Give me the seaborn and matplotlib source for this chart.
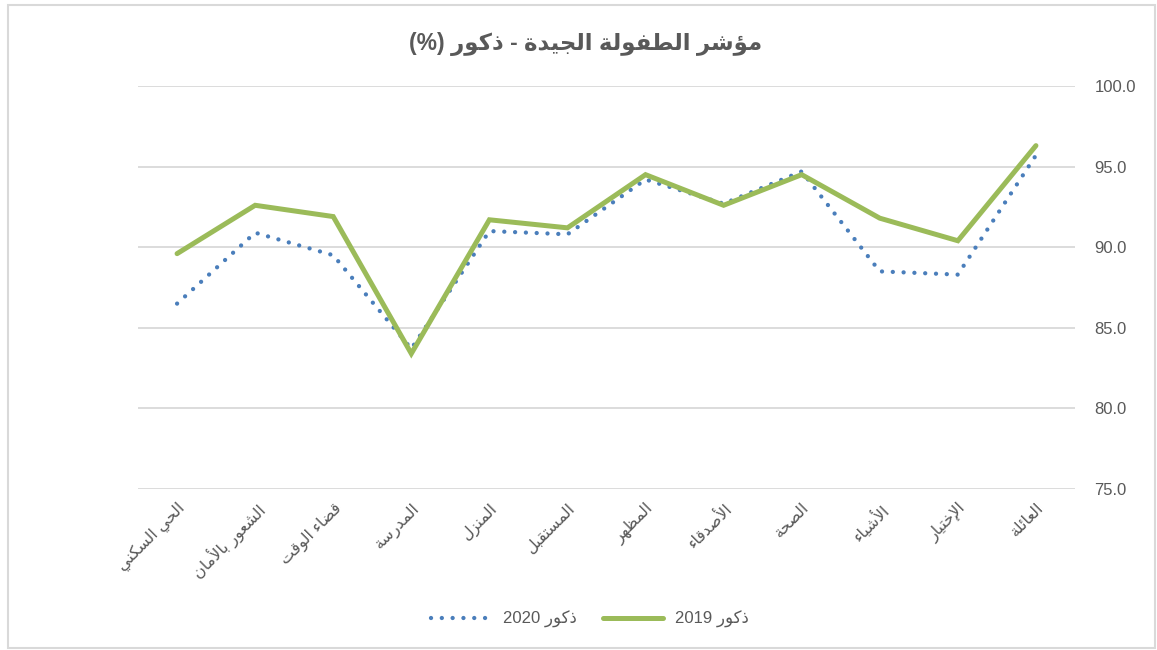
import re
import numpy as np
import pandas as pd
import matplotlib
matplotlib.use("Agg")
import matplotlib.pyplot as plt
from matplotlib.lines import Line2D
import seaborn as sns

# ---------------------------------------------------------------- data
categories = ["الحي السكني", "الشعور بالأمان", "قضاء الوقت", "المدرسة", "المنزل",
              "المستقبل", "المظهر", "الأصدقاء", "الصحة", "الأشياء", "الإختيار", "العائلة"]
males_2020 = [86.5, 90.9, 89.5, 83.7, 91.0, 90.8, 94.2, 92.7, 94.7, 88.5, 88.3, 95.7]
males_2019 = [89.6, 92.6, 91.9, 83.4, 91.7, 91.2, 94.5, 92.6, 94.5, 91.8, 90.4, 96.3]
label_2020 = "ذكور 2020"
label_2019 = "ذكور 2019"
title = "مؤشر الطفولة الجيدة - ذكور (%)"
y_ticks = [75.0, 80.0, 85.0, 90.0, 95.0, 100.0]

# ---------------------------------------------------------------- Arabic shaping
# (first code point of the contextual forms, number of forms: 1 iso, 2 iso/fin, 4 iso/fin/ini/med)
_ARABIC = {
    "ء": (0xFE80, 1), "آ": (0xFE81, 2), "أ": (0xFE83, 2), "ؤ": (0xFE85, 2),
    "إ": (0xFE87, 2), "ئ": (0xFE89, 4), "ا": (0xFE8D, 2), "ب": (0xFE8F, 4),
    "ة": (0xFE93, 2), "ت": (0xFE95, 4), "ث": (0xFE99, 4), "ج": (0xFE9D, 4),
    "ح": (0xFEA1, 4), "خ": (0xFEA5, 4), "د": (0xFEA9, 2), "ذ": (0xFEAB, 2),
    "ر": (0xFEAD, 2), "ز": (0xFEAF, 2), "س": (0xFEB1, 4), "ش": (0xFEB5, 4),
    "ص": (0xFEB9, 4), "ض": (0xFEBD, 4), "ط": (0xFEC1, 4), "ظ": (0xFEC5, 4),
    "ع": (0xFEC9, 4), "غ": (0xFECD, 4), "ف": (0xFED1, 4), "ق": (0xFED5, 4),
    "ك": (0xFED9, 4), "ل": (0xFEDD, 4), "م": (0xFEE1, 4), "ن": (0xFEE5, 4),
    "ه": (0xFEE9, 4), "و": (0xFEED, 2), "ى": (0xFEEF, 2), "ي": (0xFEF1, 4),
}
_LAM_ALEF = {"آ": 0xFEF5, "أ": 0xFEF7, "إ": 0xFEF9, "ا": 0xFEFB}


def _shape(text):
    tokens = []
    i = 0
    while i < len(text):
        c = text[i]
        if c == "ل" and i + 1 < len(text) and text[i + 1] in _LAM_ALEF:
            tokens.append(("LA", _LAM_ALEF[text[i + 1]], 2))
            i += 2
        elif c in _ARABIC:
            tokens.append((c,) + _ARABIC[c])
            i += 1
        else:
            tokens.append((c, None, 0))
            i += 1

    def joins_next(t):
        return t is not None and t[2] == 4

    def joins_prev(t):
        return t is not None and t[2] >= 2

    out = []
    for k, tok in enumerate(tokens):
        if tok[1] is None:
            out.append(tok[0])
            continue
        prev = tokens[k - 1] if k > 0 else None
        nxt = tokens[k + 1] if k + 1 < len(tokens) else None
        cp = joins_next(prev) and joins_prev(tok)
        cn = joins_next(tok) and joins_prev(nxt)
        if cp and cn:
            idx = 3
        elif cn:
            idx = 2
        elif cp:
            idx = 1
        else:
            idx = 0
        out.append(chr(tok[1] + idx))
    return "".join(out)


def rtl(text):
    vis = _shape(text)[::-1].translate(str.maketrans("()", ")("))
    return re.sub(r"[0-9.]+", lambda m: m.group(0)[::-1], vis)


# ---------------------------------------------------------------- style
sns.set_theme(style="white")
plt.rcParams["font.family"] = ["Liberation Sans", "DejaVu Sans"]
text_color = "#595959"
grid_color = "#d9d9d9"
blue = "#4a7ebb"
green = "#9bbb59"
dots = (0, (0.01, 2.5))

df = pd.DataFrame({
    "pos": np.arange(len(categories)),
    "2020": males_2020,
    "2019": males_2019,
})

fig = plt.figure(figsize=(11.57, 6.5), dpi=100)
ax = fig.add_axes([0.1193, 0.2477, 0.8098, 0.62])

sns.lineplot(data=df, x="pos", y="2020", ax=ax, color=blue, linewidth=3.1,
             linestyle=dots, dash_capstyle="round", sort=False)
sns.lineplot(data=df, x="pos", y="2019", ax=ax, color=green, linewidth=3.6,
             solid_capstyle="round", solid_joinstyle="miter", sort=False)

ax.set_xlim(-0.5, len(categories) - 0.5)
ax.set_ylim(y_ticks[0], y_ticks[-1])
ax.set_yticks(y_ticks)
ax.set_yticklabels([f"{v:.1f}" for v in y_ticks])
ax.yaxis.tick_right()
ax.tick_params(axis="y", length=0, pad=14, labelsize=12, labelcolor=text_color)

ax.set_xticks(df["pos"])
ax.set_xticklabels([rtl(c) for c in categories], rotation=45, ha="right",
                   rotation_mode="anchor", fontsize=11.5, color=text_color)
ax.tick_params(axis="x", length=0, pad=8)

ax.grid(axis="y", color=grid_color, linewidth=1.3)
ax.grid(axis="x", visible=False)
for s in ax.spines.values():
    s.set_visible(False)
ax.set_xlabel("")
ax.set_ylabel("")

fig.text(0.506, 0.933, rtl(title), ha="center", va="center", fontsize=16.5,
         fontweight="bold", color=text_color)

handles = [
    Line2D([], [], color=blue, linewidth=3.1, linestyle=dots,
           dash_capstyle="round"),
    Line2D([], [], color=green, linewidth=3.6),
]
fig.legend(handles, [rtl(label_2020), rtl(label_2019)], loc="center",
           bbox_to_anchor=(0.51, 0.047), ncol=2, frameon=False, fontsize=12,
           handlelength=3.6, handletextpad=0.7, columnspacing=1.6,
           labelcolor=text_color)

# light frame around the chart area
frame = plt.Rectangle((8 / 1157, 2 / 650), 1147 / 1157, 643 / 650,
                      transform=fig.transFigure, fill=False,
                      edgecolor=grid_color, linewidth=1.5)
fig.add_artist(frame)

fig.savefig("out.png", dpi=100)
